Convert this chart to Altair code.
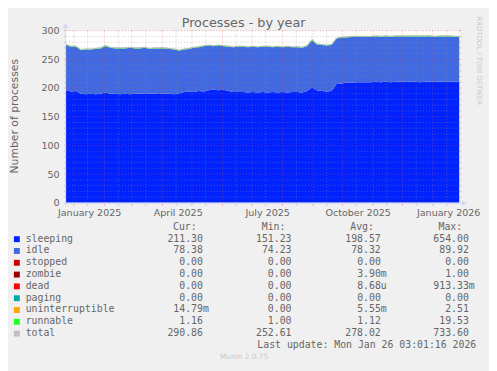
import altair as alt
import pandas as pd

# ---------------- data (days since 2025-01-01) ----------------
days = list(range(-8, 393, 5))

sleeping = [196, 194, 195, 190, 189, 190, 189, 190, 192, 190,
            190, 189, 190, 189, 190, 190, 191, 190, 190, 191,
            190, 190, 189, 191, 193, 194, 193, 195, 194, 196,
            197, 196, 197, 195, 193, 193, 193, 192, 193, 192,
            193, 192, 193, 192, 193, 192, 193, 193, 192, 195,
            201, 196, 195, 194, 195, 207, 208, 209, 209, 210,
            210, 210, 210, 211, 210, 211, 210, 211, 211, 211,
            211, 211, 210, 211, 211, 211, 211, 211, 211, 211,
            211]

idle = [79, 78, 77, 76, 78, 77, 79, 79, 81, 80,
        79, 80, 79, 81, 79, 79, 79, 78, 79, 78,
        79, 78, 78, 74, 74, 74, 77, 76, 79, 78,
        76, 78, 76, 77, 78, 79, 79, 79, 79, 79,
        79, 80, 78, 80, 78, 80, 78, 78, 78, 78,
        82, 80, 80, 80, 80, 79, 80, 79, 80, 79,
        79, 79, 79, 79, 79, 79, 79, 79, 79, 79,
        79, 79, 80, 79, 79, 78, 79, 79, 79, 78,
        78]

runnable = [1.2, 1.1, 1.3, 1.1, 1.2, 1.0, 1.1, 1.2, 1.4, 1.1,
            1.1, 1.0, 1.2, 1.1, 1.1, 1.3, 1.1, 1.0, 1.1, 1.2,
            1.1, 1.1, 1.0, 1.2, 1.1, 1.3, 1.1, 1.2, 1.1, 1.0,
            1.1, 1.2, 1.1, 1.1, 1.0, 1.1, 1.2, 1.1, 1.1, 1.0,
            1.1, 1.1, 1.2, 1.1, 1.0, 1.1, 1.1, 1.2, 1.1, 1.3,
            1.5, 1.2, 1.1, 1.1, 1.2, 1.3, 1.1, 1.2, 1.1, 1.1,
            1.2, 1.1, 1.1, 1.3, 1.1, 1.2, 1.1, 1.1, 1.2, 1.1,
            1.1, 1.2, 1.1, 1.1, 1.3, 1.1, 1.2, 1.1, 1.1, 1.2,
            1.16]

series_names = ["sleeping", "idle", "stopped", "zombie", "dead", "paging",
                "uninterruptible", "runnable", "total"]
series_colors = ["#0022ff", "#4169e1", "#cc0000", "#990000", "#ff0000",
                 "#00aaaa", "#ffa500", "#22ff22", "#c0c0c0"]
cur_vals = ["211.30", "78.38", "0.00", "0.00", "0.00", "0.00", "14.79m", "1.16", "290.86"]
min_vals = ["151.23", "74.23", "0.00", "0.00", "0.00", "0.00", "0.00", "1.00", "252.61"]
avg_vals = ["198.57", "78.32", "0.00", "3.90m", "8.68u", "0.00", "5.55m", "1.12", "278.02"]
max_vals = ["654.00", "89.92", "0.00", "1.00", "913.33m", "0.00", "2.51", "19.53", "733.60"]
col_headers = ["Cur:", "Min:", "Avg:", "Max:"]
last_update = "Last update: Mon Jan 26 03:01:16 2026"

month_starts = [0, 31, 59, 90, 120, 151, 181, 212, 243, 273, 304, 334, 365]
mid_months = [14, 45, 73, 104, 134, 165, 195, 226, 257, 287, 318, 348, 379]
label_pos = [15.5, 105.5, 196.5, 288.5, 380.5]
label_text = ["January 2025", "April 2025", "July 2025", "October 2025", "January 2026"]
y_major = [50, 100, 150, 200, 250, 300]
y_minor = [v for v in range(10, 300, 10) if v % 50 != 0]
y_labels = [0, 50, 100, 150, 200, 250, 300]

# ---------------- styling ----------------
W, H = 400, 175
FONT = "DejaVu Sans"
MONO = "DejaVu Sans Mono"
TXT = "#666666"
GRID = "#8f8f8f"
MGRID = "#e05050"
AXISC = "#cfd6f8"

xscale = alt.Scale(domain=[-8, 392], nice=False, zero=False)
yscale = alt.Scale(domain=[0, 300], nice=False, zero=True)

expr = "''"
for p, t in reversed(list(zip(label_pos, label_text))):
    expr = f"datum.value == {p} ? '{t}' : ({expr})"

xaxis = alt.Axis(values=label_pos, labelExpr=expr, title=None, domain=False, ticks=False,
                 grid=False, labelFont=FONT, labelFontSize=9.7, labelColor=TXT,
                 labelPadding=5, labelFlush=False, labelOverlap=False, labelBaseline="top",
                 orient="bottom")
yaxis = alt.Axis(values=y_labels, title=None, domain=False, ticks=False, grid=False,
                 labelFont=FONT, labelFontSize=9.7, labelColor=TXT, labelPadding=7,
                 labelFlush=False, labelOverlap=False, orient="left")

rows = []
for i, d in enumerate(days):
    for k, (name, vals) in enumerate([("sleeping", sleeping), ("idle", idle), ("runnable", runnable)]):
        rows.append({"day": d, "series": name, "value": vals[i], "order": k})
stack_df = pd.DataFrame(rows)

total_df = pd.DataFrame({"day": days,
                         "total": [s + i + r for s, i, r in zip(sleeping, idle, runnable)]})

areas = alt.Chart(stack_df).mark_area(clip=True, interpolate="linear").encode(
    x=alt.X("day:Q", scale=xscale, axis=xaxis),
    y=alt.Y("value:Q", stack="zero", scale=yscale, axis=yaxis),
    color=alt.Color("series:N", scale=alt.Scale(domain=series_names, range=series_colors), legend=None),
    order=alt.Order("order:Q"),
)

total_line = alt.Chart(total_df).mark_line(clip=True, color="#c0c0c0", strokeWidth=1).encode(
    x=alt.X("day:Q", scale=xscale, axis=None),
    y=alt.Y("total:Q", scale=yscale, axis=None),
)

one = pd.DataFrame({"a": [0]})


def vgrid(vals, color, opacity):
    df = pd.DataFrame({"gx": vals})
    g = alt.Chart(df).mark_rule(color=color, opacity=opacity, strokeDash=[1, 2], strokeWidth=1).encode(
        x=alt.X("gx:Q", scale=xscale, axis=None), y=alt.value(0), y2=alt.value(H))
    t = alt.Chart(df).mark_rule(color=color, opacity=opacity, strokeWidth=1).encode(
        x=alt.X("gx:Q", scale=xscale, axis=None), y=alt.value(H + 1), y2=alt.value(H + 3))
    return [g, t]


def hgrid(vals, color, opacity):
    df = pd.DataFrame({"gy": vals})
    g = alt.Chart(df).mark_rule(color=color, opacity=opacity, strokeDash=[1, 2], strokeWidth=1).encode(
        y=alt.Y("gy:Q", scale=yscale, axis=None), x=alt.value(0), x2=alt.value(W))
    tl = alt.Chart(df).mark_rule(color=color, opacity=opacity, strokeWidth=1).encode(
        y=alt.Y("gy:Q", scale=yscale, axis=None), x=alt.value(-2), x2=alt.value(0))
    tr = alt.Chart(df).mark_rule(color=color, opacity=opacity, strokeWidth=1).encode(
        y=alt.Y("gy:Q", scale=yscale, axis=None), x=alt.value(W), x2=alt.value(W + 2))
    return [g, tl, tr]


grids = (hgrid(y_minor, GRID, 0.45) + vgrid(mid_months, GRID, 0.45)
         + hgrid(y_major, MGRID, 0.45) + vgrid(month_starts, MGRID, 0.45))

x_axis_line = alt.Chart(one).mark_rule(color=AXISC, strokeWidth=1).encode(
    x=alt.value(-2), x2=alt.value(W + 4), y=alt.value(H + 0.5))
y_axis_line = alt.Chart(one).mark_rule(color=AXISC, strokeWidth=1).encode(
    x=alt.value(-0.5), y=alt.value(H + 3), y2=alt.value(-4))
arrow_up = alt.Chart(one).mark_point(shape="triangle-up", filled=True, color=AXISC, opacity=1, size=30).encode(
    x=alt.value(-0.5), y=alt.value(-5))
arrow_right = alt.Chart(one).mark_point(shape="triangle-right", filled=True, color=AXISC, opacity=1, size=30).encode(
    x=alt.value(W + 5), y=alt.value(H + 0.5))


def text_layer(txt, x, y, size, color=TXT, font=FONT, align="center", angle=0):
    kw = dict(text=txt, font=font, fontSize=size, color=color, align=align, baseline="middle")
    if angle:
        kw["angle"] = angle
    return alt.Chart(one).mark_text(**kw).encode(x=alt.value(x), y=alt.value(y))


texts = [
    text_layer("Processes - by year", 180.5, -8, 13),
    text_layer("Number of processes", -51.5, 87, 11, angle=270),
    text_layer("RRDTOOL / TOBI OETIKER", 420, 30.5, 7, color="#c8c8c8", angle=90),
    text_layer("Munin 2.0.75", 181, 332, 7.5, color="#c8c8c8"),
]

# ---------------- legend table ----------------
row0 = 199.5          # header row (plot coords)
num_ends = [139.2, 229.2, 320, 409.5]     # right edge of the number part of each column
head_ends = [132.8, 223, 313, 402.7]
label_x = -41

left_rows, right_rows, box_rows = [], [], []
for c, h in enumerate(col_headers):
    right_rows.append({"t": h, "px": head_ends[c], "py": row0})
for k, name in enumerate(series_names):
    ry = row0 + 12 * (k + 1)
    left_rows.append({"t": name, "px": label_x, "py": ry})
    box_rows.append({"c": series_colors[k], "y0": ry - 2.5, "y1": ry + 3.5})
    for c, v in enumerate([cur_vals[k], min_vals[k], avg_vals[k], max_vals[k]]):
        if v[-1].isalpha():
            num, suf = v[:-1], v[-1]
            left_rows.append({"t": suf, "px": num_ends[c], "py": ry})
        else:
            num = v
        right_rows.append({"t": num, "px": num_ends[c], "py": ry})
left_rows.append({"t": last_update, "px": 194.5, "py": row0 + 12 * (len(series_names) + 1)})

leg_left = alt.Chart(pd.DataFrame(left_rows)).mark_text(
    font=MONO, fontSize=10, color=TXT, align="left", baseline="middle").encode(
    x=alt.X("px:Q", scale=None, axis=None), y=alt.Y("py:Q", scale=None, axis=None), text="t:N")
leg_right = alt.Chart(pd.DataFrame(right_rows)).mark_text(
    font=MONO, fontSize=10, color=TXT, align="right", baseline="middle").encode(
    x=alt.X("px:Q", scale=None, axis=None), y=alt.Y("py:Q", scale=None, axis=None), text="t:N")
leg_boxes = alt.Chart(pd.DataFrame(box_rows)).mark_rect().encode(
    x=alt.value(-53), x2=alt.value(-47),
    y=alt.Y("y0:Q", scale=None, axis=None), y2="y1:Q",
    color=alt.Color("c:N", scale=None, legend=None))

chart = alt.layer(
    areas, total_line, *grids, x_axis_line, y_axis_line, arrow_up, arrow_right,
    *texts, leg_boxes, leg_left, leg_right
).resolve_scale(
    x="independent", y="independent", color="independent"
).resolve_axis(
    x="independent", y="independent"
).properties(
    width=W, height=H,
    padding={"left": 59, "top": 20, "right": 30, "bottom": 168},
    autosize=alt.AutoSizeParams(type="none"),
    background="#f0f0f0",
).configure_view(stroke=None, fill="#ffffff")

chart.save("out.html", embed_options={"renderer": "svg", "actions": False})
